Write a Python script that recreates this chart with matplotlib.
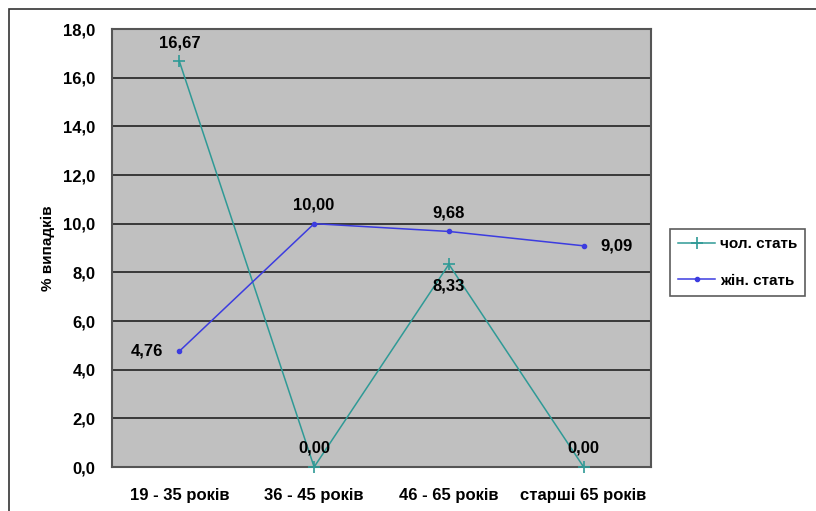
import matplotlib
matplotlib.use("Agg")
import matplotlib.pyplot as plt
from matplotlib.patches import Rectangle
from matplotlib import font_manager

categories = ["19 - 35 років", "36 - 45 років", "46 - 65 років", "старші 65 років"]
male = [16.67, 0.00, 8.33, 0.00]
female = [4.76, 10.00, 9.68, 9.09]
series_names = ["чол. стать", "жін. стать"]
y_ticks = [0, 2, 4, 6, 8, 10, 12, 14, 16, 18]

names = {f.name for f in font_manager.fontManager.ttflist}
family = ["Liberation Sans Narrow", "DejaVu Sans"] if "Liberation Sans Narrow" in names else ["Liberation Sans", "DejaVu Sans"]
plt.rcParams["font.family"] = family
plt.rcParams["font.weight"] = "bold"

teal = "#2f9a96"
blue = "#3c3ce0"

fig = plt.figure(figsize=(8.16, 5.11), dpi=100)
W, H = 816, 511

# outer chart frame
fig.patches.append(Rectangle((9 / W, -0.1), 1.2, 1 - 9 / H + 0.1, transform=fig.transFigure,
                             fill=False, edgecolor="#333333", linewidth=1.2))

ax = fig.add_axes([112 / W, 1 - 467 / H, (651 - 112) / W, (467 - 29) / H])
ax.set_facecolor("#c0c0c0")
x = range(len(categories))
ax.set_xlim(-0.5, len(categories) - 0.5)
ax.set_ylim(0, 18)
ax.set_yticks(y_ticks)
ax.set_yticklabels([f"{v:.1f}".replace(".", ",") for v in y_ticks], fontsize=12, fontweight="bold")
ax.set_xticks(list(x))
ax.set_xticklabels(categories, fontsize=12, fontweight="bold")
ax.tick_params(axis="x", length=0, pad=15)
ax.tick_params(axis="y", length=0, pad=12)
ax.grid(axis="y", color="#222222", linewidth=1.2)
ax.set_axisbelow(True)
for s in ax.spines.values():
    s.set_color("#555555")
    s.set_linewidth(1.5)

ax.plot(x, male, color=teal, linewidth=1.1, marker="+", markersize=8, markeredgewidth=1.2,
        label=series_names[0], clip_on=False, zorder=3)
ax.plot(x, female, color=blue, linewidth=1.1, marker="o", markersize=3,
        label=series_names[1], clip_on=False, zorder=3)

fmt = lambda v: f"{v:.2f}".replace(".", ",")
offsets_m = [(0, 8, "center", "bottom"), (0, 8, "center", "bottom"),
             (0, -10, "center", "top"), (0, 8, "center", "bottom")]
offsets_f = [(-12, 0, "right", "center"), (0, 8, "center", "bottom"),
             (0, 8, "center", "bottom"), (12, 0, "left", "center")]
for xi, v, (dx, dy, ha, va) in zip(x, male, offsets_m):
    ax.annotate(fmt(v), (xi, v), xytext=(dx, dy), textcoords="offset points",
                ha=ha, va=va, fontsize=12, fontweight="bold", zorder=4)
for xi, v, (dx, dy, ha, va) in zip(x, female, offsets_f):
    ax.annotate(fmt(v), (xi, v), xytext=(dx, dy), textcoords="offset points",
                ha=ha, va=va, fontsize=12, fontweight="bold", zorder=4)

ax.set_ylabel("% випадків", fontsize=11, fontweight="bold", labelpad=6)

leg = fig.legend(loc="upper left", bbox_to_anchor=(670 / W, 1 - 229 / H), fontsize=11,
                 frameon=True, fancybox=False, edgecolor="#333333", borderpad=0.55,
                 handlelength=2.4, handletextpad=0.3, labelspacing=1.45, borderaxespad=0)
leg.get_frame().set_linewidth(1.2)

fig.savefig("out.png", dpi=100)
